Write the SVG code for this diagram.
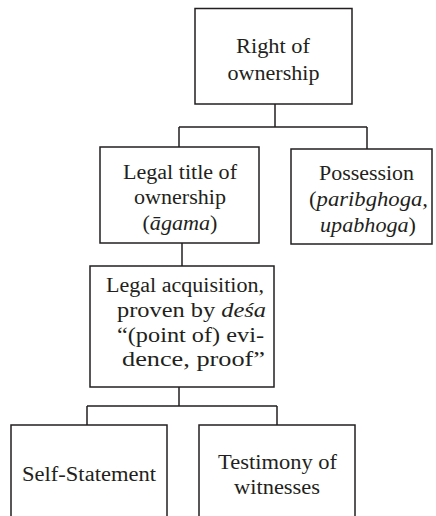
<svg xmlns="http://www.w3.org/2000/svg" width="436" height="516" viewBox="0 0 436 516">
<style>
.box{fill:#fff;stroke:#231f20;stroke-width:1.5}
.c{fill:none;stroke:#231f20;stroke-width:1.5}
.t{font-family:'Liberation Serif','Times New Roman','DejaVu Serif',serif;font-size:20.5px;fill:#231f20}
.i{font-style:italic}
</style>
<rect width="436" height="516" fill="#fff"/>
<g id="connectors">
<path class="c" d="M275,104V127M179,127H367M179,127V147M367,127V149"/>
<path class="c" d="M182,243V266"/>
<path class="c" d="M179,387V406M87,406H277M87,406V425M277,406V425"/>
</g>
<g id="n-right">
<rect class="box" x="195" y="8.5" width="157" height="95.5"/>
<text class="t" x="236" y="53" textLength="74" lengthAdjust="spacingAndGlyphs">Right of</text>
<text class="t" x="227.5" y="80" textLength="92" lengthAdjust="spacingAndGlyphs">ownership</text>
</g>
<g id="n-title">
<rect class="box" x="100" y="147" width="159" height="96"/>
<text class="t" x="123" y="179" textLength="114" lengthAdjust="spacingAndGlyphs">Legal title of</text>
<text class="t" x="134" y="204" textLength="92" lengthAdjust="spacingAndGlyphs">ownership</text>
<text class="t" x="142.5" y="230" textLength="75" lengthAdjust="spacingAndGlyphs">(<tspan class="i">āgama</tspan>)</text>
</g>
<g id="n-possession">
<rect class="box" x="291" y="149" width="141" height="95"/>
<text class="t" x="319" y="180" textLength="95" lengthAdjust="spacingAndGlyphs">Possession</text>
<text class="t" x="309" y="206" textLength="119" lengthAdjust="spacingAndGlyphs">(<tspan class="i">paribghoga,</tspan></text>
<text class="t" x="320" y="232" textLength="96" lengthAdjust="spacingAndGlyphs"><tspan class="i">upabhoga</tspan>)</text>
</g>
<g id="n-acquisition">
<rect class="box" x="90" y="266" width="184" height="121"/>
<text class="t" x="106" y="292" textLength="158" lengthAdjust="spacingAndGlyphs">Legal acquisition,</text>
<text class="t" x="117" y="317" textLength="149" lengthAdjust="spacingAndGlyphs">proven by <tspan class="i">deśa</tspan></text>
<text class="t" x="117" y="342" textLength="147" lengthAdjust="spacingAndGlyphs">“(point of) evi-</text>
<text class="t" x="122" y="366" textLength="143" lengthAdjust="spacingAndGlyphs">dence, proof”</text>
</g>
<g id="n-self">
<rect class="box" x="11" y="425" width="156" height="100"/>
<text class="t" x="22" y="481" textLength="134" lengthAdjust="spacingAndGlyphs">Self-Statement</text>
</g>
<g id="n-testimony">
<rect class="box" x="199" y="425" width="156" height="100"/>
<text class="t" x="218" y="469" textLength="119" lengthAdjust="spacingAndGlyphs">Testimony of</text>
<text class="t" x="234" y="494" textLength="86" lengthAdjust="spacingAndGlyphs">witnesses</text>
</g>
</svg>
